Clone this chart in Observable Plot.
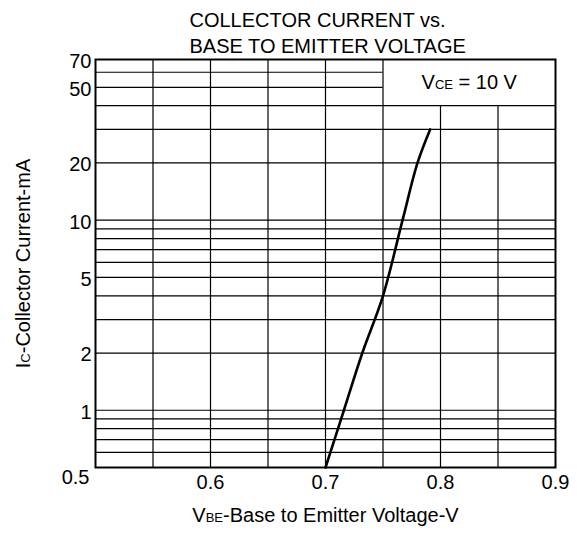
<!DOCTYPE html>
<html><head><meta charset="utf-8">
<script src="https://cdn.jsdelivr.net/npm/d3@7"></script>
<script src="https://cdn.jsdelivr.net/npm/@observablehq/plot@0.6"></script>
<style>body{margin:0;background:#fff} svg{display:block}</style>
</head><body><div id="chart"></div>
<script>
// Data
const vbe = [0.700, 0.716, 0.732, 0.750, 0.767, 0.780, 0.791];
const ic = [0.5, 1, 2, 4, 10, 20, 30];
const xTicks = [0.6, 0.7, 0.8, 0.9];
const yTicks = [1, 2, 5, 10, 20, 50, 70];
const cornerTick = ["0.5"];
const xGrid = [0.55, 0.6, 0.65, 0.7, 0.75, 0.8, 0.85];
const yGrid = [0.6, 0.7, 0.8, 0.9, 1, 2, 3, 4, 5, 6, 7, 8, 9, 10, 20, 30, 40, 50, 60];
const titleLines = ["COLLECTOR CURRENT vs.", "BASE TO EMITTER VOLTAGE"];
const noteParts = ["V", "CE", " = 10 V"];
const xLabelParts = ["V", "BE", "-Base to Emitter Voltage-V"];
const yLabelParts = ["I", "C", "-Collector Current-mA"];

const curve = vbe.map((v, i) => ({v, i: ic[i]}));
const FONT = "Liberation Sans, Arial, sans-serif";

const plot = Plot.plot({
  width: 577, height: 533,
  marginLeft: 95, marginRight: 22, marginTop: 59, marginBottom: 66,
  style: {fontFamily: FONT, fontSize: "20px", color: "#000", background: "#fff"},
  x: {domain: [0.5, 0.9], axis: null},
  y: {type: "log", domain: [0.5, 70], axis: null},
  marks: [
    Plot.ruleX(xGrid, {x: d => d, y1: 0.5, y2: d => d > 0.75 ? 40 : 70, stroke: "#000", strokeWidth: 1.2}),
    Plot.ruleY(yGrid, {y: d => d, x1: 0.5, x2: d => d >= 50 ? 0.75 : 0.9, stroke: "#000", strokeWidth: 1.2}),
    Plot.frame({stroke: "#000", strokeWidth: 2}),
    Plot.line(curve, {x: "v", y: "i", stroke: "#000", strokeWidth: 2.6, curve: "catmull-rom"}),
    Plot.text(xTicks, {x: d => d, frameAnchor: "bottom", text: d => d.toFixed(1), dy: 21, textAnchor: "middle", fontSize: 20}),
    Plot.text(yTicks, {y: d => d, frameAnchor: "left", text: d => String(d), dx: -4, dy: 2, textAnchor: "end", fontSize: 20}),
    Plot.text(cornerTick, {frameAnchor: "bottom-left", text: d => d, dx: -6, dy: 16, textAnchor: "end", fontSize: 20}),
    Plot.text([noteParts.join("")], {x: 0.825, y: Math.sqrt(40 * 70), text: d => d, textAnchor: "middle", fontSize: 20, className: "sub-note"}),
    Plot.text([titleLines.join("\n")], {frameAnchor: "top-left", text: d => d, dx: 94, dy: -7, lineAnchor: "bottom", textAnchor: "start", fontSize: 20, lineHeight: 1.3}),
    Plot.text([xLabelParts.join("")], {frameAnchor: "bottom", text: d => d, dy: 54, textAnchor: "middle", fontSize: 20, className: "sub-x"}),
    Plot.text([yLabelParts.join("")], {frameAnchor: "left", text: d => d, dx: -72, rotate: -90, textAnchor: "middle", fontSize: 20, className: "sub-y"})
  ]
});

function subscript(cls, parts) {
  d3.select(plot).selectAll("g." + cls + " text").each(function() {
    const t = d3.select(this);
    t.text(null);
    t.append("tspan").text(parts[0]);
    t.append("tspan").attr("font-size", "13px").text(parts[1]);
    t.append("tspan").text(parts[2]);
  });
}
subscript("sub-note", noteParts);
subscript("sub-x", xLabelParts);
subscript("sub-y", yLabelParts);

document.getElementById("chart").appendChild(plot);
</script>
</body></html>
